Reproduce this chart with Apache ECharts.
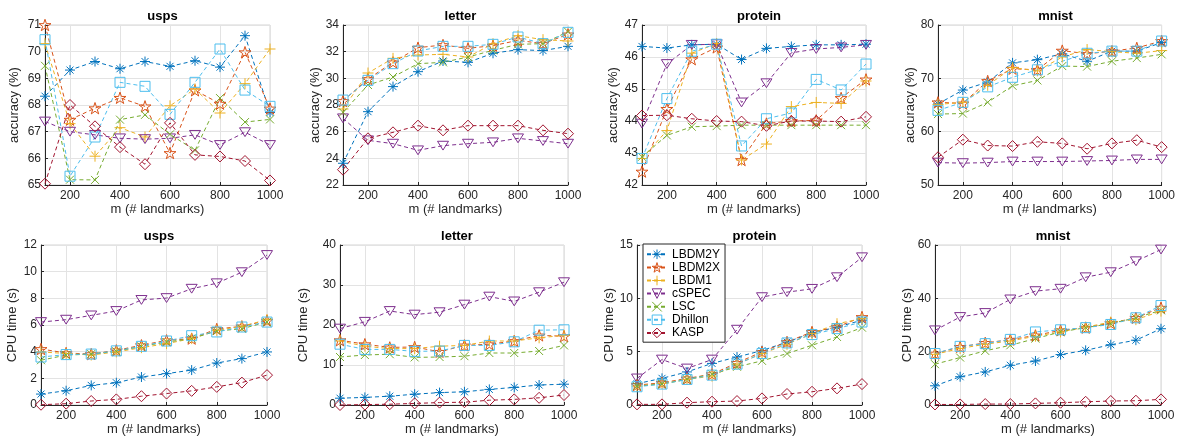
<!DOCTYPE html>
<html>
<head>
<meta charset="utf-8">
<script src="https://cdn.jsdelivr.net/npm/echarts@6/dist/echarts.min.js"></script>
<style>
  html, body { margin: 0; padding: 0; background: #fff; }
  #chart { width: 1178px; height: 443px; }
</style>
</head>
<body>
<div id="chart"></div>
<script>
  // x values and ticks
  const landmarks = [100, 200, 300, 400, 500, 600, 700, 800, 900, 1000];
  const xTicks = [200, 400, 600, 800, 1000];
  const methods = ['LBDM2Y', 'LBDM2X', 'LBDM1', 'cSPEC', 'LSC', 'Dhillon', 'KASP'];

  // rows follow the order of methods
  const accUsps = [
    [68.33, 69.31, 69.63, 69.36, 69.63, 69.45, 69.66, 69.42, 70.6, 67.72],
    [71.0, 67.45, 67.88, 68.27, 67.95, 66.2, 68.55, 68.05, 69.98, 67.87],
    [70.3, 67.3, 66.08, 67.15, 66.8, 67.97, 68.6, 67.7, 68.8, 70.1],
    [67.38, 67.0, 66.88, 66.75, 66.72, 66.75, 66.88, 66.5, 66.98, 66.5],
    [69.47, 65.2, 65.19, 67.45, 67.63, 66.9, 66.3, 68.26, 67.36, 67.46],
    [70.45, 65.33, 66.8, 68.85, 68.7, 67.65, 68.85, 70.1, 68.56, 67.95],
    [65.05, 68.0, 67.2, 66.42, 65.78, 67.33, 66.13, 66.07, 65.9, 65.17]
  ];
  const accLetter = [
    [23.63, 27.5, 29.38, 30.5, 31.3, 31.2, 31.88, 32.15, 32.08, 32.4],
    [28.3, 29.95, 31.2, 32.3, 32.5, 32.25, 32.45, 32.85, 32.6, 33.3],
    [27.7, 30.4, 31.5, 31.75, 31.8, 31.6, 32.6, 33.2, 32.9, 32.8],
    [27.0, 25.35, 25.1, 24.6, 24.95, 25.1, 25.2, 25.5, 25.3, 25.1],
    [27.45, 29.5, 30.1, 31.1, 31.2, 31.6, 32.1, 32.55, 32.6, 33.5],
    [28.37, 29.85, 31.1, 32.05, 32.4, 32.4, 32.55, 33.1, 32.6, 33.45],
    [23.15, 25.5, 25.95, 26.45, 26.1, 26.45, 26.45, 26.45, 26.1, 25.85]
  ];
  const accProtein = [
    [46.33, 46.28, 46.38, 46.4, 45.92, 46.27, 46.33, 46.38, 46.38, 46.4],
    [42.42, 44.38, 45.93, 46.3, 42.78, 43.92, 44.0, 44.02, 44.72, 45.3],
    [42.83, 43.7, 46.12, 46.42, 42.78, 43.28, 44.45, 44.58, 44.55, 45.25],
    [43.92, 45.78, 46.38, 46.4, 44.58, 45.18, 46.13, 46.25, 46.3, 46.38],
    [42.88, 43.55, 43.82, 43.84, 43.87, 43.87, 43.87, 43.87, 43.87, 43.87],
    [42.83, 44.7, 46.18, 46.4, 43.22, 44.07, 44.25, 45.3, 44.97, 45.78],
    [44.17, 44.18, 44.07, 44.0, 43.98, 43.85, 44.0, 44.0, 43.98, 44.13]
  ];
  const accMnist = [
    [65.2, 67.8, 69.3, 72.9, 73.5, 74.6, 73.2, 75.1, 75.1, 76.7],
    [65.5, 65.3, 69.5, 71.8, 71.6, 75.2, 74.6, 75.1, 75.7, 77.0],
    [65.1, 65.5, 68.7, 72.0, 71.4, 74.0, 75.4, 75.0, 74.7, 75.2],
    [54.2, 54.1, 54.2, 54.4, 54.4, 54.4, 54.5, 54.6, 54.8, 54.8],
    [63.3, 63.4, 65.5, 68.6, 69.6, 72.3, 72.2, 73.2, 73.8, 74.5],
    [64.0, 65.5, 68.4, 70.2, 71.6, 73.2, 74.7, 75.1, 75.1, 77.0],
    [55.2, 58.5, 57.4, 57.3, 58.1, 57.8, 56.8, 57.8, 58.4, 57.1]
  ];
  const timeUsps = [
    [0.82, 1.07, 1.47, 1.67, 2.1, 2.35, 2.62, 3.15, 3.48, 3.98],
    [4.2, 3.9, 3.82, 4.1, 4.48, 4.85, 4.98, 5.7, 5.9, 6.33],
    [3.98, 3.86, 3.75, 3.98, 4.3, 4.6, 4.98, 5.6, 5.9, 6.4],
    [6.22, 6.4, 6.72, 7.05, 7.88, 8.02, 8.72, 9.13, 9.96, 11.25],
    [3.36, 3.74, 3.82, 4.03, 4.4, 4.72, 4.98, 5.55, 5.72, 6.22],
    [3.6, 3.78, 3.82, 4.06, 4.4, 4.8, 5.2, 5.48, 5.85, 6.22],
    [0.02, 0.1, 0.3, 0.42, 0.66, 0.86, 1.06, 1.36, 1.68, 2.24]
  ];
  const timeLetter = [
    [1.7, 1.9, 2.2, 2.7, 3.1, 3.3, 3.9, 4.4, 5.0, 5.2],
    [16.2, 15.2, 14.4, 14.5, 13.3, 14.9, 15.2, 16.0, 17.4, 17.2],
    [16.0, 14.7, 14.1, 14.1, 14.7, 14.9, 16.0, 16.0, 16.8, 17.4],
    [19.1, 20.8, 23.5, 22.6, 23.2, 25.1, 27.1, 25.9, 28.2, 30.7],
    [12.0, 12.5, 12.7, 11.9, 12.0, 12.2, 13.0, 13.0, 13.5, 14.9],
    [15.2, 13.9, 13.9, 13.4, 13.5, 14.9, 14.9, 15.8, 18.7, 18.8],
    [0.0, 0.1, 0.2, 0.4, 0.6, 0.7, 1.2, 1.4, 1.8, 2.5]
  ];
  const timeProtein = [
    [2.0, 2.5, 3.1, 3.9, 4.5, 5.1, 5.9, 6.75, 7.3, 7.95],
    [1.87, 2.08, 2.49, 2.89, 3.95, 4.98, 5.91, 6.85, 7.31, 8.25],
    [1.77, 2.02, 2.4, 2.71, 3.83, 4.82, 5.69, 6.69, 7.62, 8.09],
    [2.49, 4.26, 3.42, 4.26, 7.06, 10.11, 10.58, 10.89, 11.98, 13.85],
    [1.77, 1.96, 2.4, 2.89, 3.58, 4.14, 4.82, 5.6, 6.38, 7.25],
    [1.71, 1.96, 2.4, 2.8, 3.83, 4.82, 5.82, 6.6, 7.16, 7.78],
    [0.06, 0.06, 0.22, 0.31, 0.37, 0.62, 1.03, 1.24, 1.56, 1.96]
  ];
  const timeMnist = [
    [7.2, 10.6, 12.4, 14.9, 16.5, 18.9, 20.5, 22.6, 24.3, 28.6],
    [19.3, 21.8, 23.3, 24.5, 26.1, 28.0, 29.0, 30.7, 32.7, 36.5],
    [19.0, 21.2, 22.8, 24.0, 25.8, 27.4, 29.2, 31.1, 32.0, 35.2],
    [28.0, 33.0, 34.5, 39.6, 42.7, 43.6, 47.9, 49.8, 53.9, 58.3],
    [15.3, 17.8, 20.3, 22.4, 24.9, 27.4, 29.0, 30.5, 32.7, 35.5],
    [19.3, 22.0, 23.0, 24.6, 27.4, 28.2, 29.0, 30.2, 32.7, 37.3],
    [0.2, 0.2, 0.35, 0.35, 0.6, 0.85, 1.2, 1.5, 1.6, 2.1]
  ];

  // MATLAB default colours and marker shapes
  const colors = ['#0072BD', '#D95319', '#EDB120', '#7E2F8E', '#77AC30', '#4DBEEE', '#A2142F'];
  const symbols = [
    'path://M0,-1L0,1M-1,0L1,0M-0.7,-0.7L0.7,0.7M-0.7,0.7L0.7,-0.7',
    'path://M0,-1L0.2245,-0.309L0.951,-0.309L0.363,0.118L0.588,0.809L0,0.382L-0.588,0.809L-0.363,0.118L-0.951,-0.309L-0.2245,-0.309Z',
    'path://M0,-1L0,1M-1,0L1,0',
    'path://M-1,0L1,0L0,1.6Z',
    'path://M-1,-1L1,1M-1,1L1,-1',
    'rect',
    'diamond'
  ];
  const symbolSizes = [10, 12, 11, 11, 8, 10, 11];

  const panels = [
    { title: 'usps', data: accUsps, yName: 'accuracy (%)', min: 65, max: 71, step: 1, box: [45, 25, 225, 160], gap: 24 },
    { title: 'letter', data: accLetter, yName: 'accuracy (%)', min: 22, max: 34, step: 2, box: [343, 25, 225, 160], gap: 18 },
    { title: 'protein', data: accProtein, yName: 'accuracy (%)', min: 42, max: 47, step: 1, box: [642, 25, 224, 160], gap: 22 },
    { title: 'mnist', data: accMnist, yName: 'accuracy (%)', min: 50, max: 80, step: 10, box: [938, 25, 225, 160], gap: 19 },
    { title: 'usps', data: timeUsps, yName: 'CPU time (s)', min: 0, max: 12, step: 2, box: [41, 245, 226, 160], gap: 22 },
    { title: 'letter', data: timeLetter, yName: 'CPU time (s)', min: 0, max: 40, step: 10, box: [340, 245, 224, 160], gap: 30 },
    { title: 'protein', data: timeProtein, yName: 'CPU time (s)', min: 0, max: 15, step: 5, box: [637, 245, 225, 160], gap: 20 },
    { title: 'mnist', data: timeMnist, yName: 'CPU time (s)', min: 0, max: 60, step: 20, box: [935, 245, 226, 160], gap: 21 }
  ];

  const fontFamily = '"Liberation Sans", Arial, sans-serif';
  const ink = '#262626';

  const chart = echarts.init(document.getElementById('chart'), null, { renderer: 'canvas' });

  const grids = [], xAxes = [], yAxes = [], titles = [], series = [];
  panels.forEach(function (p, i) {
    const [l, t, w, h] = p.box;
    grids.push({ left: l, top: t, width: w, height: h, show: true, borderColor: '#d4d4d4', borderWidth: 1 });
    titles.push({
      text: p.title, left: l + w / 2, top: t - 20, textAlign: 'center',
      textStyle: { fontFamily: fontFamily, fontSize: 13, fontWeight: 'bold', color: '#000' }
    });
    xAxes.push({
      type: 'value', gridIndex: i, min: 100, max: 1000,
      name: 'm (# landmarks)', nameLocation: 'middle', nameGap: 18,
      nameTextStyle: { fontFamily: fontFamily, fontSize: 13, color: ink },
      axisLine: { lineStyle: { color: ink, width: 1 } },
      axisTick: { inside: true, length: 3, customValues: xTicks, lineStyle: { color: ink } },
      axisLabel: {
        customValues: xTicks, fontFamily: fontFamily, fontSize: 12, color: ink, margin: 5,
        formatter: function (v) { return String(v); }
      },
      splitLine: { show: true, lineStyle: { color: '#e3e3e3', width: 1 } }
    });
    yAxes.push({
      type: 'value', gridIndex: i, min: p.min, max: p.max, interval: p.step,
      name: p.yName, nameLocation: 'middle', nameGap: p.gap, nameRotate: 90,
      nameTextStyle: { fontFamily: fontFamily, fontSize: 13, color: ink },
      axisLine: { show: true, lineStyle: { color: ink, width: 1 } },
      axisTick: { show: true, inside: true, length: 3, lineStyle: { color: ink } },
      axisLabel: { fontFamily: fontFamily, fontSize: 12, color: ink, margin: 4 },
      splitLine: { show: true, lineStyle: { color: '#e3e3e3', width: 1 } }
    });
    methods.forEach(function (name, k) {
      series.push({
        name: name, type: 'line', xAxisIndex: i, yAxisIndex: i,
        data: landmarks.map(function (m, j) { return [m, p.data[k][j]]; }),
        symbol: symbols[k], symbolSize: symbolSizes[k], symbolKeepAspect: true,
        showAllSymbol: true, clip: false,
        lineStyle: { color: colors[k], width: 1, type: [4, 3] },
        itemStyle: { color: 'none', borderColor: colors[k], borderWidth: 1 },
        emphasis: { disabled: true }
      });
    });
  });

  const option = {
    animation: false,
    backgroundColor: '#fff',
    title: titles,
    legend: {
      data: methods, orient: 'vertical', left: 643, top: 244,
      itemWidth: 20, itemHeight: 12, itemGap: -1.5,
      padding: [3, 5, 2, 3],
      backgroundColor: '#fff', borderColor: ink, borderWidth: 1, borderRadius: 0,
      itemStyle: { color: 'none', borderWidth: 1 },
      textStyle: { fontFamily: fontFamily, fontSize: 12, lineHeight: 12, color: '#000' }
    },
    grid: grids,
    xAxis: xAxes,
    yAxis: yAxes,
    series: series
  };
  chart.setOption(option);
</script>
</body>
</html>
